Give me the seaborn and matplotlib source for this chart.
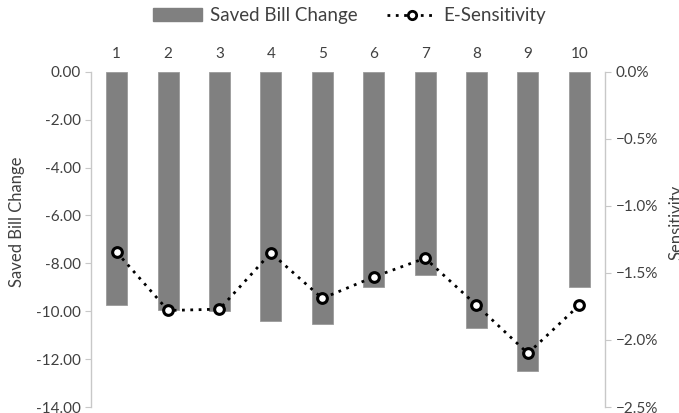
import matplotlib
matplotlib.use("Agg")
import matplotlib.pyplot as plt
import seaborn as sns
import pandas as pd
from matplotlib.ticker import PercentFormatter
from matplotlib.lines import Line2D
from matplotlib.patches import Patch

categories = ["1", "2", "3", "4", "5", "6", "7", "8", "9", "10"]
saved_bill_change = [-9.72, -9.95, -9.99, -10.42, -10.54, -8.97, -8.47, -10.68, -12.51, -8.97]
e_sensitivity = [-1.345, -1.78, -1.77, -1.35, -1.69, -1.53, -1.39, -1.74, -2.10, -1.74]  # percent

sns.set_theme(style="white")
plt.rcParams["font.family"] = ["Lato", "DejaVu Sans"]

df = pd.DataFrame({"cat": categories, "bill": saved_bill_change, "sens": e_sensitivity})

fig = plt.figure(figsize=(6.79, 4.13), dpi=100)
ax = fig.add_axes([0.134, 0.0145, 0.757, 0.8115])
sns.barplot(data=df, x="cat", y="bill", ax=ax, color="#808080", saturation=1,
            width=0.41, edgecolor="#9a9a9a", linewidth=0.6)
ax.set_ylim(-14, 0)
ax.set_yticks([0, -2, -4, -6, -8, -10, -12, -14])
ax.set_yticklabels([f"{v:.2f}" for v in [0, -2, -4, -6, -8, -10, -12, -14]])
ax.xaxis.tick_top()
ax.set_xlabel("")
ax.set_ylabel("Saved Bill Change", fontsize=12, color="#404040")
ax.yaxis.set_label_coords(-0.128, 0.552)
ax.tick_params(axis="x", length=0, labelsize=11, colors="#404040", pad=8)
ax.tick_params(axis="y", length=4, direction="out", labelsize=11, colors="#404040",
               left=True, width=0.8, color="#c8c8c8")
for s in ["top", "bottom", "right"]:
    ax.spines[s].set_visible(False)
ax.spines["left"].set_color("#c8c8c8")
ax.spines["left"].set_linewidth(1.0)
ax.set_xlim(-0.5, 9.5)

ax2 = ax.twinx()
sns.lineplot(x=list(range(len(categories))), y=e_sensitivity, ax=ax2, color="black",
             linestyle=(0, (1, 2)), linewidth=2.0, marker="o", markersize=7,
             markerfacecolor="white", markeredgecolor="black", markeredgewidth=2.2)
ax2.set_ylim(-2.5, 0)
ax2.set_yticks([0, -0.5, -1.0, -1.5, -2.0, -2.5])
ax2.yaxis.set_major_formatter(PercentFormatter(xmax=100, decimals=1))
ax2.set_ylabel("Sensitivity", fontsize=12, color="#404040", rotation=90)
ax2.yaxis.set_label_coords(1.124, 0.552)
ax2.tick_params(axis="y", length=4, direction="out", labelsize=11, colors="#404040",
                right=True, width=0.8, color="#c8c8c8")
for s in ["top", "bottom", "left"]:
    ax2.spines[s].set_visible(False)
ax2.spines["right"].set_color("#c8c8c8")
ax2.spines["right"].set_linewidth(1.0)
ax2.set_xlim(-0.5, 9.5)

handles = [Patch(facecolor="#808080", edgecolor="#808080"),
           Line2D([0], [0], color="black", linestyle=(0, (1, 2)), linewidth=2.0, marker="o",
                  markersize=6, markerfacecolor="white", markeredgecolor="black", markeredgewidth=2)]
fig.legend(handles, ["Saved Bill Change", "E-Sensitivity"], loc="center",
           bbox_to_anchor=(0.515, 0.962), ncol=2, frameon=False, fontsize=13.5,
           handlelength=2.6, columnspacing=1.6, handletextpad=0.4,
           labelcolor="#404040")

fig.savefig("out.png", dpi=100)
